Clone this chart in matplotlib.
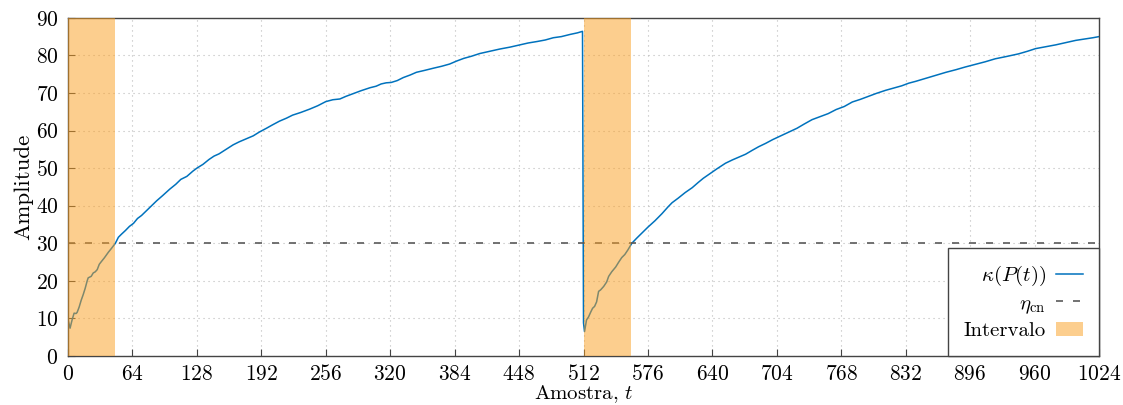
import matplotlib
matplotlib.use('Agg')
import matplotlib.pyplot as plt
import numpy as np

# Computer Modern look
matplotlib.rcParams.update({
    'font.family': 'serif',
    'font.serif': ['cmr10'],
    'mathtext.fontset': 'cm',
    'axes.formatter.use_mathtext': True,
    'axes.unicode_minus': False,
    'font.size': 15.5,
})

# kappa(P(t)), first window (samples 0..511)
t_win1 = [0, 2, 4, 6, 8, 9, 11, 13, 15, 17, 19, 20, 23, 25, 27, 29, 31, 33, 36, 40, 43, 47,
          50, 53, 57, 61, 65, 69, 73, 78, 83, 88, 94, 101, 107, 112, 118, 124, 128, 134, 140,
          145, 150, 157, 164, 170, 177, 184, 190, 197, 203, 210, 217, 223, 231, 240, 248, 256,
          263, 270, 276, 283, 291, 300, 306, 311, 316, 321, 327, 333, 340, 346, 354, 363, 371,
          379, 386, 393, 401, 409, 419, 429, 439, 449, 457, 466, 474, 482, 490, 499, 506, 511]
k_win1 = [9.6, 7.4, 9.6, 11.4, 11.3, 11.6, 13.0, 14.8, 16.3, 18.0, 20.0, 20.8, 21.2, 22.1,
          22.4, 23.0, 24.4, 25.1, 26.1, 27.6, 28.6, 30.0,
          31.6, 32.4, 33.4, 34.5, 35.3, 36.6, 37.4, 38.7, 40.0, 41.3, 42.7, 44.4, 45.7, 47.0,
          47.8, 49.2, 50.0, 51.0, 52.3, 53.2, 53.8, 55.0, 56.2, 57.0, 57.8, 58.6, 59.6, 60.6,
          61.5, 62.5, 63.3, 64.1, 64.8, 65.7, 66.6, 67.7,
          68.2, 68.4, 69.1, 69.8, 70.6, 71.4, 71.8, 72.4, 72.7, 72.8, 73.3, 74.1, 74.8, 75.5,
          76.0, 76.6, 77.1, 77.7, 78.5, 79.2, 79.8, 80.5, 81.1, 81.7, 82.2, 82.8, 83.3, 83.7,
          84.1, 84.7, 85.0, 85.6, 86.0, 86.4]

# second window (samples 512..1024)
t_win2 = [512, 513, 515, 517, 519, 521, 523, 525, 527, 529, 532, 535, 537, 540, 544, 547, 550,
          553, 556, 560,
          565, 570, 576, 583, 590, 596, 600, 606, 613, 620, 626, 631, 638, 645, 653, 660, 666,
          673, 680, 686, 693, 700, 708, 716, 724, 731, 739, 747, 755, 763, 771, 779, 787, 795,
          803, 812, 820, 828, 835, 842, 852, 862, 872, 882, 891, 901, 911, 921, 932, 944, 953,
          961, 971, 981, 991, 1001, 1011, 1018, 1024]
k_win2 = [8.8, 6.5, 9.6, 10.4, 11.6, 12.7, 13.2, 14.4, 17.2, 17.6, 18.5, 19.7, 21.2, 22.4,
          23.7, 25.0, 26.2, 27.0, 28.2, 30.0,
          31.4, 32.7, 34.3, 36.0, 37.9, 39.7, 40.8, 42.0, 43.5, 44.8, 46.2, 47.3, 48.6, 49.9,
          51.3, 52.2, 52.9, 53.7, 54.8, 55.7, 56.6, 57.6, 58.6, 59.6, 60.6, 61.7, 62.9, 63.7,
          64.5, 65.6, 66.4, 67.6, 68.3, 69.1, 69.9, 70.7, 71.3, 71.9, 72.6, 73.1, 73.9, 74.7,
          75.5, 76.2, 76.9, 77.6, 78.3, 79.1, 79.7, 80.4, 81.1, 81.8, 82.3, 82.8, 83.4, 84.0,
          84.4, 84.7, 85.0]

eta_cn = 30
intervals = [(0, 47), (512, 559)]

t_kappa = t_win1 + t_win2
k_kappa = k_win1 + k_win2

fig = plt.figure(figsize=(11.23, 4.05), dpi=100)
ax = fig.add_axes([0.0606, 0.121, 0.918, 0.835])

ax.plot(t_kappa, k_kappa, color='#0072BD', lw=1.1, label=r'$\kappa(P(t))$', zorder=2)
ax.axhline(eta_cn, color='#5a5a5a', lw=1.2, dashes=(4.2, 6), label=r'$\eta_{\mathrm{cn}}$', zorder=2)
for i, (a, b) in enumerate(intervals):
    ax.axvspan(a, b, color='#FB9E1E', alpha=0.5, lw=0, zorder=3,
               label='Intervalo' if i == 0 else None)

ax.set_xlim(0, 1024)
ax.set_ylim(0, 90)
ax.set_xticks(np.arange(0, 1025, 64))
ax.set_yticks(np.arange(0, 91, 10))
ax.tick_params(direction='in', length=5, width=0.8, color='#444444')
ax.tick_params(axis='x', pad=6)
ax.tick_params(axis='y', pad=7)
ax.grid(True, ls=(0, (1, 3.5)), color='#bbbbbb', lw=0.8)
for s in ax.spines.values():
    s.set_color('#444444')
    s.set_linewidth(1.0)

ax.set_xlabel(r'Amostra, $t$', labelpad=-1, fontsize=15)
ax.set_ylabel('Amplitude', labelpad=2, fontsize=16.5)

leg = ax.legend(loc='lower right', bbox_to_anchor=(1, 0), borderaxespad=0, fancybox=False,
                framealpha=1, edgecolor='#444444', markerfirst=False, handlelength=1.3,
                handletextpad=0.5, borderpad=0.75, labelspacing=0.3, fontsize=15)
leg.get_frame().set_linewidth(1.0)
leg.set_zorder(5)

fig.savefig('out.png', dpi=100)
